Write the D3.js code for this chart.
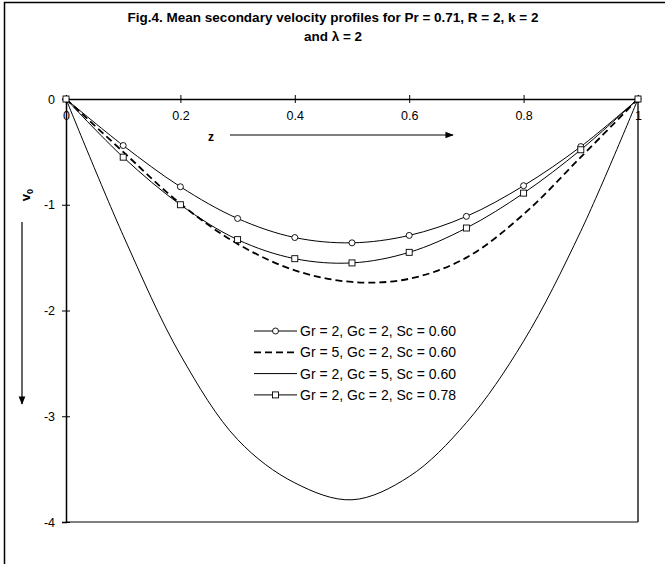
<!DOCTYPE html>
<html>
<head>
<meta charset="utf-8">
<script src="https://cdn.jsdelivr.net/npm/d3@7"></script>
<style>
  body { margin: 0; background: #fff; }
  svg { font-family: Arial, "Liberation Sans", sans-serif; }
</style>
</head>
<body>
<svg id="chart" width="665" height="564"></svg>
<script>
const zValues = [0, 0.1, 0.2, 0.3, 0.4, 0.5, 0.6, 0.7, 0.8, 0.9, 1];

// Gr = 2, Gc = 2, Sc = 0.60 (circles)
const base = [0, -0.44, -0.83, -1.13, -1.31, -1.36, -1.29, -1.11, -0.82, -0.45, 0];
// Gr = 5, Gc = 2, Sc = 0.60 (dashed)
const grFive = [0, -0.5, -0.99, -1.37, -1.62, -1.73, -1.70, -1.50, -1.09, -0.55, 0];
// Gr = 2, Gc = 5, Sc = 0.60 (plain)
const gcFive = [0, -1.29, -2.42, -3.22, -3.63, -3.79, -3.57, -3.06, -2.29, -1.25, 0];
// Gr = 2, Gc = 2, Sc = 0.78 (squares)
const scHigh = [0, -0.55, -1.0, -1.33, -1.51, -1.55, -1.45, -1.22, -0.89, -0.48, 0];

const legendLabels = [
  "Gr = 2, Gc = 2, Sc = 0.60",
  "Gr = 5, Gc = 2, Sc = 0.60",
  "Gr = 2, Gc = 5, Sc = 0.60",
  "Gr = 2, Gc = 2, Sc = 0.78"
];
const xTicks = [0, 0.2, 0.4, 0.6, 0.8, 1];
const yTicks = [0, -1, -2, -3, -4];

const series = [
  { name: legendLabels[0], values: base, marker: "circle", dash: null, width: 1 },
  { name: legendLabels[1], values: grFive, marker: null, dash: "7,4", width: 1.8 },
  { name: legendLabels[2], values: gcFive, marker: null, dash: null, width: 1 },
  { name: legendLabels[3], values: scHigh, marker: "square", dash: null, width: 1 }
];

const svg = d3.select("#chart");

const margin = { top: 99, right: 27, bottom: 42, left: 66 },
  width = 665 - margin.left - margin.right,
  height = 564 - margin.top - margin.bottom;

// outer chart frame (cropped on right and bottom)
svg.append("rect")
  .attr("x", 4.5).attr("y", 2.5)
  .attr("width", 700).attr("height", 600)
  .attr("fill", "none").attr("stroke", "#000").attr("stroke-width", 1.5);

// title
const title = svg.append("text")
  .attr("x", 333).attr("y", 22)
  .attr("text-anchor", "middle")
  .style("font-size", "13.5px").style("font-weight", "bold");
title.append("tspan").attr("x", 333).attr("dy", 0)
  .text("Fig.4. Mean secondary velocity profiles for Pr = 0.71, R = 2, k = 2");
title.append("tspan").attr("x", 333).attr("dy", 19).text("and λ = 2");

const g = svg.append("g").attr("transform", `translate(${margin.left},${margin.top})`);

const xScale = d3.scaleLinear().domain([0, 1]).range([0, width]);
const yScale = d3.scaleLinear().domain([0, -4]).range([0, height]);

// plot area border
g.append("line")
  .attr("x1", 0).attr("x2", width).attr("y1", height).attr("y2", height)
  .attr("stroke", "#808080").attr("stroke-width", 2);
g.append("line")
  .attr("x1", width).attr("x2", width).attr("y1", 0).attr("y2", height)
  .attr("stroke", "#222").attr("stroke-width", 1.5);

// axes
const xAxis = g.append("g")
  .call(d3.axisBottom(xScale).tickValues(xTicks).tickSize(4).tickFormat(d3.format("")));
xAxis.select(".domain").attr("stroke-width", 1.5);
xAxis.selectAll(".tick line").attr("y1", -4).attr("y2", 4);
xAxis.selectAll(".tick text").attr("y", 12).style("font-size", "12.5px")
  .style("font-family", "Arial, 'Liberation Sans', sans-serif");

const yAxis = g.append("g")
  .call(d3.axisLeft(yScale).tickValues(yTicks).tickSize(4).tickFormat(d3.format("")));
yAxis.select(".domain").attr("stroke-width", 1.5);
yAxis.selectAll(".tick line").attr("x1", -4).attr("x2", 4);
yAxis.selectAll(".tick text").attr("x", -11).style("font-size", "12.5px")
  .style("font-family", "Arial, 'Liberation Sans', sans-serif")
  .text(d => d === 0 ? "0" : "-" + Math.abs(d));

// axis titles with arrows
svg.append("defs").append("marker")
  .attr("id", "arrow").attr("viewBox", "0 0 10 10")
  .attr("refX", 9).attr("refY", 5)
  .attr("markerWidth", 7).attr("markerHeight", 7)
  .attr("orient", "auto")
  .append("path").attr("d", "M0,1 L10,5 L0,9 Z").attr("fill", "#000");

svg.append("text")
  .attr("x", 211).attr("y", 141)
  .attr("text-anchor", "middle")
  .style("font-size", "12px").style("font-weight", "bold")
  .text("z");
svg.append("line")
  .attr("x1", 230).attr("x2", 453).attr("y1", 135).attr("y2", 135)
  .attr("stroke", "#000").attr("stroke-width", 1.2)
  .attr("marker-end", "url(#arrow)");

const vLabel = svg.append("text")
  .attr("transform", "translate(30,195) rotate(-90)")
  .attr("text-anchor", "middle")
  .style("font-size", "13px").style("font-weight", "bold");
vLabel.append("tspan").text("v");
vLabel.append("tspan").attr("dy", 3).style("font-size", "9px").text("0");
svg.append("line")
  .attr("x1", 22).attr("x2", 22).attr("y1", 222).attr("y2", 404)
  .attr("stroke", "#000").attr("stroke-width", 1.2)
  .attr("marker-end", "url(#arrow)");

// lines
const line = d3.line()
  .x((d, i) => xScale(zValues[i]))
  .y(d => yScale(d))
  .curve(d3.curveCatmullRom);

series.forEach(s => {
  g.append("path")
    .datum(s.values)
    .attr("d", line)
    .attr("fill", "none")
    .attr("stroke", "#000")
    .attr("stroke-width", s.width)
    .attr("stroke-dasharray", s.dash);
});

function drawMarker(sel, type, x, y) {
  if (type === "circle") {
    sel.append("circle").attr("cx", x).attr("cy", y).attr("r", 3)
      .attr("fill", "#fff").attr("stroke", "#000").attr("stroke-width", 0.9);
  } else if (type === "square") {
    sel.append("rect").attr("x", x - 3).attr("y", y - 3)
      .attr("width", 6).attr("height", 6)
      .attr("fill", "#fff").attr("stroke", "#000").attr("stroke-width", 0.9);
  }
}

series.filter(s => s.marker).forEach(s => {
  s.values.forEach((v, i) => drawMarker(g, s.marker, xScale(zValues[i]), yScale(v)));
});

// legend
const legend = svg.append("g").attr("transform", "translate(254,331)");
series.forEach((s, i) => {
  const row = legend.append("g").attr("transform", `translate(0,${i * 21.3})`);
  row.append("line")
    .attr("x1", 0).attr("x2", 43).attr("y1", 0).attr("y2", 0)
    .attr("stroke", "#000").attr("stroke-width", s.width)
    .attr("stroke-dasharray", s.dash);
  if (s.marker) drawMarker(row, s.marker, 21.5, 0);
  row.append("text")
    .attr("x", 46).attr("y", 5)
    .style("font-size", "14px")
    .text(s.name);
});
</script>
</body>
</html>
